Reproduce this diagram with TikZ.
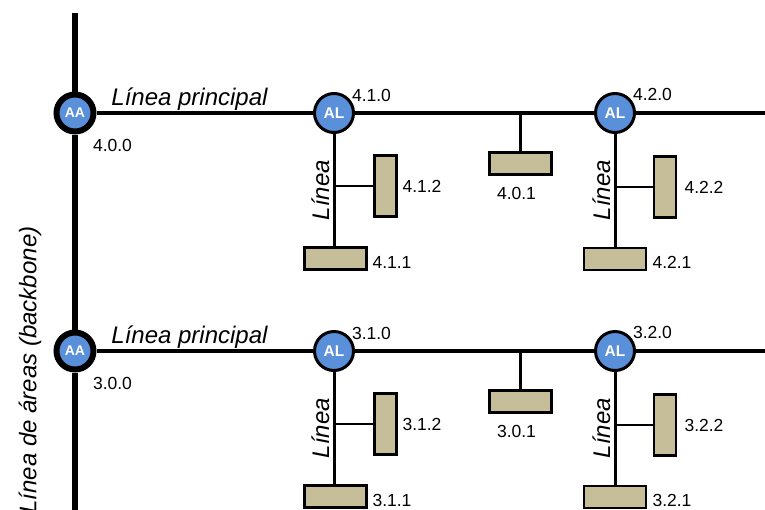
\documentclass[tikz,border=0pt]{standalone}
\usepackage{fontspec}
\setmainfont{Liberation Sans}
\definecolor{alblue}{RGB}{90,143,217}
\definecolor{devtan}{RGB}{198,190,152}

\begin{document}
\begin{tikzpicture}[x=1pt, y=-1pt,
  aa/.style={draw, circle, line width=6pt, fill=alblue, minimum size=37pt, inner sep=0pt, text=white, font=\bfseries\fontsize{14}{14}\selectfont},
  al/.style={draw, circle, line width=3pt, fill=alblue, minimum size=39pt, inner sep=0pt, text=white, font=\bfseries\fontsize{15.5}{15.5}\selectfont},
  hdev/.style={draw, line width=2.6pt, fill=devtan, minimum width=62pt, minimum height=22pt, inner sep=0pt},
  vdev/.style={draw, line width=2.6pt, fill=devtan, minimum width=22pt, minimum height=61pt, inner sep=0pt},
  addr/.style={inner sep=0pt, font=\fontsize{17.5}{17.5}\selectfont},
  lname/.style={inner sep=0pt, font=\itshape\fontsize{24}{24}\selectfont},
  bbone/.style={line width=6pt},
  mainline/.style={line width=4pt},
  subline/.style={line width=3pt},
  stub/.style={line width=2.4pt}]
\useasboundingbox (0,0) rectangle (765,509);

\coordinate (top) at (75,13);
\coordinate (bot) at (75,520);
\coordinate (end4) at (770,113);
\coordinate (end3) at (770,351);

\node[aa] (aa4) at (75,113){AA};
\node[al] (al41) at (334,113){AL};
\node[al] (al42) at (615,113){AL};

\node[hdev] (b401) at (520.5,163.5){};
\node[hdev] (b411) at (335.5,258.5){};
\node[vdev] (b412) at (385.5,186){};
\node[hdev] (b421) at (615,259){};
\node[vdev] (b422) at (665,187){};

\node[aa] (aa3) at (75,351){AA};
\node[al] (al31) at (334,351){AL};
\node[al] (al32) at (615,351){AL};

\node[hdev] (b301) at (520.5,401.5){};
\node[hdev] (b311) at (335.5,496.5){};
\node[vdev] (b312) at (385.5,424){};
\node[hdev] (b321) at (615,497){};
\node[vdev] (b322) at (665,425){};

\draw[bbone] (top) -- (aa4) -- (aa3) -- (bot);

\draw[mainline] (aa4) -- (al41) -- (al42) -- (end4);
\draw[subline] (b401.north) -- (b401.north |- al41);
\draw[subline] (al41) -- (b411.north -| al41);
\draw[stub] (b412.west) -- (b412.west -| al41);
\draw[subline] (al42) -- (b421.north -| al42);
\draw[stub] (b422.west) -- (b422.west -| al42);

\draw[mainline] (aa3) -- (al31) -- (al32) -- (end3);
\draw[subline] (b301.north) -- (b301.north |- al31);
\draw[subline] (al31) -- (b311.north -| al31);
\draw[stub] (b312.west) -- (b312.west -| al31);
\draw[subline] (al32) -- (b321.north -| al32);
\draw[stub] (b322.west) -- (b322.west -| al32);

\node[lname, rotate=90] (backbone) at (30,370){Línea de áreas (backbone)};

\node[lname, anchor=base] (main4) at (189.5,105.5){Línea principal};
\node[lname, rotate=90] (line41) at (320.5,190){Línea};
\node[lname, rotate=90] (line42) at (601.5,190){Línea};
\node[addr] (a400) at (112.5,145.5){4.0.0};
\node[addr] (a410) at (371.5,95){4.1.0};
\node[addr] (a420) at (652.5,94){4.2.0};
\node[addr] (a401) at (516.5,193.5){4.0.1};
\node[addr] (a411) at (392,262){4.1.1};
\node[addr] (a412) at (422,186){4.1.2};
\node[addr] (a421) at (672,262){4.2.1};
\node[addr] (a422) at (704,187){4.2.2};

\node[lname, anchor=base] (main3) at (189.5,343.5){Línea principal};
\node[lname, rotate=90] (line31) at (320.5,428){Línea};
\node[lname, rotate=90] (line32) at (601.5,428){Línea};
\node[addr] (a300) at (112.5,383.5){3.0.0};
\node[addr] (a310) at (371.5,333){3.1.0};
\node[addr] (a320) at (652.5,332){3.2.0};
\node[addr] (a301) at (516.5,431.5){3.0.1};
\node[addr] (a311) at (392,500){3.1.1};
\node[addr] (a312) at (422,424){3.1.2};
\node[addr] (a321) at (672,500){3.2.1};
\node[addr] (a322) at (704,425){3.2.2};

\end{tikzpicture}
\end{document}
